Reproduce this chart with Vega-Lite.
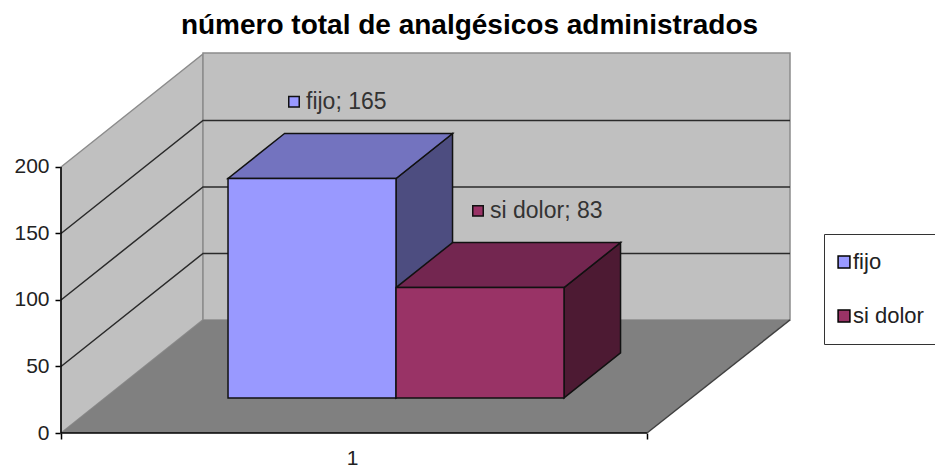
{
"$schema":"https://vega.github.io/schema/vega-lite/v6.json",
"width":729,"height":380,
"autosize":{"type":"none"},
"padding":{"left":61,"top":53,"right":145,"bottom":37},
"background":"white",
"title":{"text":"número total de analgésicos administrados","font":"Liberation Sans","fontSize":28,"fontWeight":"bold","color":"black","anchor":"middle","dx":44,"offset":10},
"config":{"view":{"stroke":null},"font":"Liberation Sans"},
"resolve":{"axis":{"x":"independent","y":"independent"}},
"datasets":{
 "barras":[{"serie":"fijo","valor":165,"orden":0},{"serie":"si dolor","valor":83,"orden":1}],
 "rejilla":[{"nivel":50},{"nivel":100},{"nivel":150}],
 "plano":[{"parte":"suelo"}]
},
"layer":[
 {"data":{"name":"plano"},
  "transform":[{"calculate":"[0,1]","as":"d"},{"flatten":["d"]},{"calculate":"142*datum.d","as":"px"},{"calculate":"85*datum.d","as":"py"},{"calculate":"200+85*datum.d","as":"py2"}],
  "mark":{"type":"area","fill":"#C0C0C0","stroke":"#8C8C8C","strokeWidth":1.5},
  "encoding":{
   "x":{"field":"px","type":"quantitative","scale":{"domain":[0,729],"nice":false,"zero":false},
     "axis":{"values":[0,291,586],"title":null,"grid":false,"domain":false,"labelExpr":"datum.value==291?'1':''","labelFontSize":21,"labelColor":"#222","labelPadding":8,"tickColor":"black","tickWidth":1.5,"tickSize":6,"tickOpacity":{"condition":{"test":"datum.value==291","value":0},"value":1}}},
   "y":{"field":"py","type":"quantitative","stack":null,"scale":{"domain":[0,285.7],"nice":false,"zero":false},
     "axis":{"values":[0,50,100,150,200],"title":null,"grid":false,"domain":false,"labelFontSize":21,"labelColor":"#222","labelPadding":6,"tickColor":"black","tickWidth":1.5,"tickSize":6}},
   "y2":{"field":"py2"}}},
 {"data":{"name":"plano"},
  "transform":[{"calculate":"[142,729]","as":"px"},{"flatten":["px"]},{"calculate":"85","as":"py"},{"calculate":"285.7","as":"py2"}],
  "mark":{"type":"area","fill":"#C0C0C0","stroke":"#8C8C8C","strokeWidth":1.5},
  "encoding":{"x":{"field":"px","type":"quantitative","axis":null},"y":{"field":"py","type":"quantitative","stack":null,"axis":null},"y2":{"field":"py2"}}},
 {"data":{"name":"plano"},
  "transform":[{"calculate":"[0,1]","as":"d"},{"flatten":["d"]},{"calculate":"142*datum.d","as":"px"},{"calculate":"586+142*datum.d","as":"px2"},{"calculate":"85*datum.d","as":"py"}],
  "mark":{"type":"area","orient":"horizontal","fill":"#808080"},
  "encoding":{"x":{"field":"px","type":"quantitative","stack":null,"axis":null},"x2":{"field":"px2"},"y":{"field":"py","type":"quantitative","axis":null}}},
 {"data":{"name":"rejilla"},
  "transform":[{"calculate":"[0,1,2]","as":"p"},{"calculate":"[0,142,729]","as":"px"},{"calculate":"[0,85,85]","as":"dv"},{"flatten":["p","px","dv"]},{"calculate":"datum.nivel+datum.dv","as":"py"}],
  "mark":{"type":"line","color":"#2A2A2A","strokeWidth":1.5},
  "encoding":{"x":{"field":"px","type":"quantitative","axis":null},"y":{"field":"py","type":"quantitative","axis":null},"detail":{"field":"nivel"},"order":{"field":"p"}}},
 {"data":{"name":"plano"},
  "transform":[{"calculate":"[0,1,2]","as":"p"},{"calculate":"[0,0,586]","as":"px"},{"calculate":"[200,0,0]","as":"py"},{"flatten":["p","px","py"]}],
  "mark":{"type":"line","color":"black","strokeWidth":1.5},
  "encoding":{"x":{"field":"px","type":"quantitative","axis":null},"y":{"field":"py","type":"quantitative","axis":null},"order":{"field":"p"}}},
 {"data":{"name":"plano"},
  "transform":[{"calculate":"[586,729]","as":"px"},{"calculate":"[0,85]","as":"py"},{"flatten":["px","py"]}],
  "mark":{"type":"line","color":"#404040","strokeWidth":1.5},
  "encoding":{"x":{"field":"px","type":"quantitative","axis":null},"y":{"field":"py","type":"quantitative","axis":null}}},
 {"data":{"name":"barras"},
  "transform":[{"calculate":"[0.31,0.708]","as":"d"},{"flatten":["d"]},{"calculate":"291+168*datum.orden+142*datum.d","as":"px"},{"calculate":"85*datum.d","as":"py"},{"calculate":"datum.valor+85*datum.d","as":"py2"}],
  "mark":{"type":"area","stroke":"#111","strokeWidth":1.5},
  "encoding":{"x":{"field":"px","type":"quantitative","axis":null},"y":{"field":"py","type":"quantitative","stack":null,"axis":null},"y2":{"field":"py2"},"detail":{"field":"serie"},
   "fill":{"condition":{"test":"datum.serie=='fijo'","value":"#4D4D80"},"value":"#4D1A33"}}},
 {"data":{"name":"barras"},
  "transform":[{"calculate":"[0.31,0.708]","as":"d"},{"flatten":["d"]},{"calculate":"123+168*datum.orden+142*datum.d","as":"px"},{"calculate":"291+168*datum.orden+142*datum.d","as":"px2"},{"calculate":"datum.valor+85*datum.d","as":"py"}],
  "mark":{"type":"area","orient":"horizontal","stroke":"#111","strokeWidth":1.5},
  "encoding":{"x":{"field":"px","type":"quantitative","stack":null,"axis":null},"x2":{"field":"px2"},"y":{"field":"py","type":"quantitative","axis":null},"detail":{"field":"serie"},
   "fill":{"condition":{"test":"datum.serie=='fijo'","value":"#7373BF"},"value":"#732650"}}},
 {"data":{"name":"barras"},
  "transform":[{"calculate":"[0,168]","as":"u"},{"flatten":["u"]},{"calculate":"123+168*datum.orden+datum.u+142*0.31","as":"px"},{"calculate":"85*0.31","as":"py"},{"calculate":"datum.valor+85*0.31","as":"py2"}],
  "mark":{"type":"area","stroke":"#111","strokeWidth":1.5},
  "encoding":{"x":{"field":"px","type":"quantitative","axis":null},"y":{"field":"py","type":"quantitative","stack":null,"axis":null},"y2":{"field":"py2"},
   "color":{"field":"serie","type":"nominal","scale":{"domain":["fijo","si dolor"],"range":["#9999FF","#993366"]},
    "legend":{"orient":"none","legendX":763,"legendY":181,"title":null,"symbolType":"square","symbolSize":140,"symbolStrokeColor":"black","symbolStrokeWidth":1.5,"symbolOffset":-8,"labelFontSize":22,"labelColor":"#222","labelOffset":-2,"rowPadding":32,"padding":17,"strokeColor":"#333","fillColor":"white","cornerRadius":0}}}},
 {"data":{"name":"barras"},
  "transform":[{"calculate":"233+184*datum.orden","as":"px"},{"calculate":"datum.valor+84","as":"py"}],
  "mark":{"type":"point","shape":"square","filled":true,"size":110,"stroke":"#111","strokeWidth":1.5,"opacity":1},
  "encoding":{"x":{"field":"px","type":"quantitative","axis":null},"y":{"field":"py","type":"quantitative","axis":null},
   "fill":{"condition":{"test":"datum.serie=='fijo'","value":"#9999FF"},"value":"#993366"}}},
 {"data":{"name":"barras"},
  "transform":[{"calculate":"233+184*datum.orden","as":"px"},{"calculate":"datum.valor+84","as":"py"},{"calculate":"datum.serie+'; '+datum.valor","as":"etiqueta"}],
  "mark":{"type":"text","align":"left","dx":12,"fontSize":23,"color":"#333"},
  "encoding":{"x":{"field":"px","type":"quantitative","axis":null},"y":{"field":"py","type":"quantitative","axis":null},"text":{"field":"etiqueta"}}}
]
}
